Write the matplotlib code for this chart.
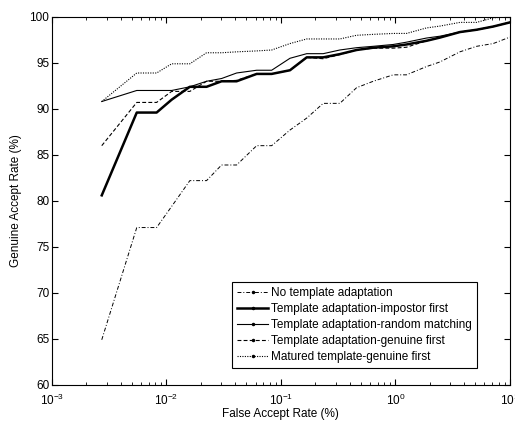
import numpy as np
import matplotlib
matplotlib.use("Agg")
import matplotlib.pyplot as plt
from matplotlib.lines import Line2D

plt.rcParams.update({"font.family": ["Liberation Sans", "DejaVu Sans"], "font.size": 8.5,
                     "mathtext.default": "regular"})

# FAR grid (%) shared by all curves
far = [0.00272, 0.0055, 0.0082, 0.0111, 0.016, 0.0224, 0.0303, 0.041, 0.0614, 0.083,
       0.12, 0.168, 0.234, 0.327, 0.458, 0.64, 0.957, 1.25, 1.87, 2.45, 3.66, 5.12, 7.15, 10.0]

gar_none = [64.9, 77.1, 77.1, 79.4, 82.2, 82.2, 83.9, 83.9, 86.0, 86.0, 87.7, 89.0,
            90.6, 90.6, 92.3, 93.0, 93.7, 93.7, 94.6, 95.1, 96.2, 96.8, 97.1, 97.8]
gar_impostor = [80.6, 89.6, 89.6, 91.0, 92.4, 92.4, 93.0, 93.0, 93.8, 93.8, 94.2, 95.6,
                95.6, 95.95, 96.4, 96.65, 96.8, 97.0, 97.4, 97.75, 98.35, 98.6, 98.95, 99.4]
gar_random = [90.8, 92.0, 92.0, 92.0, 92.4, 93.0, 93.3, 93.9, 94.2, 94.2, 95.5, 96.0,
              96.0, 96.4, 96.65, 96.8, 97.0, 97.25, 97.7, 97.9, 98.35, 98.6, 98.95, 99.4]
gar_genuine = [86.0, 90.7, 90.7, 91.9, 91.9, 93.0, 93.0, 93.1, 93.8, 93.8, 94.2, 95.6,
               95.45, 95.9, 96.4, 96.6, 96.6, 96.7, 97.4, 97.75, 98.35, 98.6, 98.95, 99.4]
gar_matured = [90.8, 93.9, 93.9, 94.9, 94.9, 96.1, 96.1, 96.2, 96.3, 96.4, 97.1, 97.6,
               97.6, 97.6, 98.0, 98.1, 98.2, 98.2, 98.8, 99.0, 99.4, 99.4, 99.9, 100.0]

labels = ["No template adaptation", "Template adaptation-impostor first",
          "Template adaptation-random matching", "Template adaptation-genuine first",
          "Matured template-genuine first"]
series = [gar_none, gar_impostor, gar_random, gar_genuine, gar_matured]
styles = [(0, (4, 2, 1, 2)), "-", "-", (0, (3.5, 2)), (0, (1, 1.2))]
widths = [0.7, 1.8, 0.8, 0.8, 0.8]

fig = plt.figure(figsize=(5.15, 4.22), dpi=100)
ax = fig.add_axes([0.101, 0.088, 0.889, 0.872])

handles = []
for y, lab, ls, lw in zip(series, labels, styles, widths):
    ax.plot(far, y, color="black", ls=ls, lw=lw)
    handles.append(Line2D([], [], color="black", ls=ls, lw=lw, marker=".", ms=3, label=lab))

ax.set_xscale("log")
ax.set_xlim(1e-3, 10)
ax.set_ylim(60, 100)
ax.set_yticks(range(60, 101, 5))
ax.set_xticks([1e-3, 1e-2, 1e-1, 1, 10])
ax.set_xticklabels(["$10^{-3}$", "$10^{-2}$", "$10^{-1}$", "$10^{0}$", "$10^{1}$"])
ax.tick_params(which="both", direction="in", top=True, right=True, labelsize=8.5)
ax.tick_params(axis="y", pad=2)
ax.tick_params(axis="x", pad=6)
ax.tick_params(which="major", length=4)
ax.tick_params(which="minor", length=2)
for s in ax.spines.values():
    s.set_linewidth(0.8)
ax.set_xlabel("False Accept Rate (%)", labelpad=0)
ax.set_ylabel("Genuine Accept Rate (%)", labelpad=5)

leg = ax.legend(handles=handles, loc="lower right", bbox_to_anchor=(0.928, 0.046),
                fancybox=False, edgecolor="black", framealpha=1, handlelength=2.6,
                handletextpad=0.3, borderpad=0.4, labelspacing=0.35, borderaxespad=0,
                fontsize=8.5)
leg.get_frame().set_linewidth(0.8)

fig.savefig("out.png", dpi=100)
